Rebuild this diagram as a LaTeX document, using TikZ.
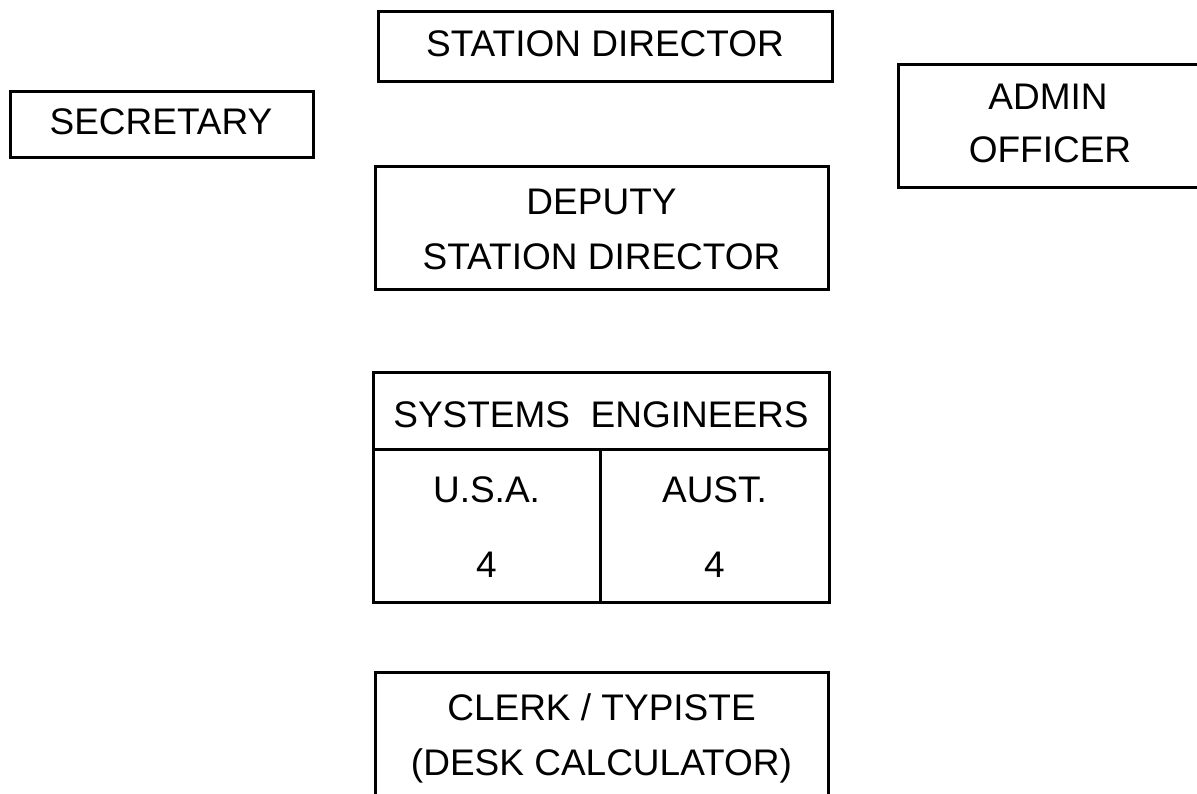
\documentclass[tikz,border=0pt]{standalone}
\usepackage{fontspec}
\setmainfont{Liberation Sans}
\begin{document}
\begin{tikzpicture}[x=1pt,y=-1pt,
  frame/.style={draw=black,line width=3pt,line cap=rect},
  boxnode/.style={draw=black,line width=3pt,inner sep=0pt,outer sep=0pt},
  lbl/.style={anchor=base,inner sep=0pt,font=\fontsize{37}{55}\selectfont}]
\useasboundingbox (0,0) rectangle (1197,794);
% boxes
\node[boxnode,minimum width=454pt,minimum height=70pt] (sdbox) at (605,47) {};
\node[boxnode,minimum width=303pt,minimum height=66pt] (secbox) at (161.5,125) {};
\node[boxnode,minimum width=453pt,minimum height=123pt] (depbox) at (601.5,228.5) {};
\draw[frame] (1200,65) -- (898,65) -- (898,188) -- (1200,188);
\coordinate (clerkbl) at (375,797);
\coordinate (clerkbr) at (828,797);
\draw[frame] (clerkbl) -- (375,672) -- (828,672) -- (clerkbr);
% table
\node[boxnode,minimum width=456pt,minimum height=230pt] (tab) at (601,487) {};
\draw[frame] (tab.west |- 0,449) -- (tab.east |- 0,449);
\draw[frame] (600,449) -- (600,602);
% labels
\node[lbl] (sd) at (605,57) {STATION DIRECTOR};
\node[lbl] (sec) at (161,135) {SECRETARY};
\node[lbl] (adm1) at (1048,110) {ADMIN};
\node[lbl] (adm2) at (1050,163) {OFFICER};
\node[lbl] (dep1) at (601.5,215) {DEPUTY};
\node[lbl] (dep2) at (601.5,270) {STATION DIRECTOR};
\node[lbl] (se) at (601,427) {SYSTEMS\ \ ENGINEERS};
\node[lbl] (usa) at (486.5,502) {U.S.A.};
\node[lbl] (aus) at (714.5,502) {AUST.};
\node[lbl] (usan) at (486.5,577) {4};
\node[lbl] (ausn) at (714.5,577) {4};
\node[lbl] (cl1) at (601.5,720) {CLERK / TYPISTE};
\node[lbl] (cl2) at (601.5,775) {(DESK CALCULATOR)};
\end{tikzpicture}
\end{document}
